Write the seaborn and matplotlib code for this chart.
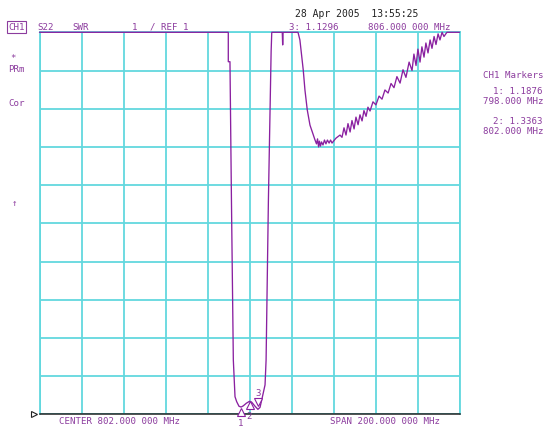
import matplotlib
matplotlib.use("Agg")
import matplotlib.pyplot as plt
from matplotlib.transforms import offset_copy
import seaborn as sns
import pandas as pd

# S22 SWR trace: frequency (MHz) and SWR
# values above 11 are pinned to the top of the screen like the instrument does
freq_mhz = [
    702.0, 791.9, 791.9, 792.7, 793.4, 794.3, 795.1, 795.9, 797.0, 798.0,
    799.0, 800.5, 802.0, 803.0, 804.5, 806.0, 807.0, 807.8, 809.4, 809.9,
    811.0, 812.3, 812.6, 817.6, 817.8, 818.0, 825.1,
    826.0, 827.6, 828.4, 829.5, 830.8, 832.1, 833.2,
    833.9, 834.4, 834.9, 835.3, 835.8, 836.3, 837.0, 837.7, 838.4, 839.1,
    839.9, 840.6, 841.3, 842.0, 843.2, 845.1,
    846.05, 847.0, 847.95, 848.9, 849.9, 850.8, 851.8, 852.7, 853.7, 854.6,
    855.6, 856.5, 857.5, 858.4, 859.4, 860.8, 862.2, 863.7, 865.1, 866.5,
    868.0, 869.4, 870.8, 872.2, 873.7, 875.1, 876.5, 878.0, 879.4, 880.3,
    881.3, 882.2, 883.2, 884.1, 885.1, 886.0, 887.0, 888.0, 888.9, 889.9,
    890.8, 891.8, 892.7, 893.7, 894.6, 896.0, 902.0,
]
swr = [
    11.0, 11.0, 10.23, 10.23, 6.61, 2.42, 1.46, 1.33, 1.21, 1.19,
    1.22, 1.29, 1.34, 1.32, 1.22, 1.13, 1.18, 1.37, 1.77, 2.42,
    6.60, 10.50, 11.0, 11.0, 10.67, 11.0, 11.0,
    10.80, 10.01, 9.49, 8.97, 8.57, 8.36, 8.18,
    8.08, 8.21, 8.00, 8.15, 8.02, 8.13, 8.05, 8.18, 8.08, 8.18,
    8.10, 8.18, 8.10, 8.15, 8.23, 8.31,
    8.25, 8.50, 8.31, 8.61, 8.39, 8.69, 8.47, 8.78, 8.58, 8.84,
    8.68, 8.95, 8.80, 9.04, 8.94, 9.18, 9.10, 9.33, 9.25, 9.49,
    9.41, 9.66, 9.55, 9.84, 9.67, 10.02, 9.82, 10.22, 10.00, 10.43,
    10.13, 10.56, 10.22, 10.62, 10.35, 10.72, 10.46, 10.80, 10.58, 10.89,
    10.68, 10.96, 10.80, 11.0, 10.89, 11.0, 11.0,
]

# markers
marker_freq = [798.0, 802.0, 806.0]
marker_swr = [1.1876, 1.3363, 1.1296]
marker_names = ["1", "2", "3"]

# screen settings
start_mhz, stop_mhz = 702.0, 902.0
ref_value, scale_per_div = 1, 1

PURPLE = "#8A20A0"
TXT = "#8C3C9E"
CYAN = "#62D8DE"
MONO = "DejaVu Sans Mono"

sns.set_style("white")
plt.rcParams["font.family"] = [MONO, "DejaVu Sans"]

W, H = 547, 428
fig = plt.figure(figsize=(W / 100, H / 100), dpi=100)
ax = fig.add_axes([39.5 / W, 1 - 414.3 / H, 420 / W, 382 / H])


def px(x, y):
    return x / W, 1 - y / H


df = pd.DataFrame({"freq": freq_mhz, "swr": swr})
sns.lineplot(data=df, x="freq", y="swr", sort=False, estimator=None,
             color=PURPLE, lw=0.95, ax=ax, clip_on=False, zorder=5)

ax.set_xlim(start_mhz, stop_mhz)
ax.set_ylim(ref_value, ref_value + 10 * scale_per_div)
ax.set_xticks(range(702, 903, 20))
ax.set_yticks(range(1, 12))
ax.grid(True, color=CYAN, lw=1.3)
ax.tick_params(length=0, labelbottom=False, labelleft=False)
ax.set_xlabel("")
ax.set_ylabel("")
for s in ["left", "right", "top"]:
    ax.spines[s].set_color(CYAN)
    ax.spines[s].set_linewidth(1.3)
ax.spines["bottom"].set_color("#222222")
ax.spines["bottom"].set_linewidth(1.1)

# reference position marker
ref_tr = offset_copy(ax.transData, fig=fig, x=-4, y=0, units="points")
ax.plot([start_mhz], [ref_value], marker=">", ms=5, mfc="white", mec="#222222",
        mew=0.8, transform=ref_tr, clip_on=False, zorder=6)

# marker triangles and numbers
tri_style = [("^", -3.2, -11.5), ("^", -2.4, -10.8), ("v", 5.0, 11.5)]
for f, v, name, (m, dy, ty) in zip(marker_freq, marker_swr, marker_names, tri_style):
    tr = offset_copy(ax.transData, fig=fig, x=0, y=dy, units="points")
    ax.plot([f], [v], marker=m, ms=6, mfc="white", mec=PURPLE, mew=0.8,
            transform=tr, clip_on=False, zorder=7)
    ax.annotate(name, (f, v), xytext=(0, ty), textcoords="offset points",
                ha="center", va="center", fontsize=6.6, color=TXT,
                annotation_clip=False)

fs = 6.6
fig.text(*px(8, 27), "CH1", fontsize=fs, color=TXT, va="center",
         bbox=dict(boxstyle="square,pad=0.12", fc="none", ec=TXT, lw=0.8))
fig.text(*px(37, 27), "S22", fontsize=fs, color=TXT, va="center")
fig.text(*px(72.5, 27), "SWR", fontsize=fs, color=TXT, va="center")
fig.text(*px(132, 27), "1", fontsize=fs, color=TXT, va="center")
fig.text(*px(150, 27), "/ REF 1", fontsize=fs, color=TXT, va="center")
fig.text(*px(289, 28), "3: 1.1296", fontsize=fs, color=TXT, va="center")
fig.text(*px(368, 28), "806.000 000 MHz", fontsize=fs, color=TXT, va="center")
fig.text(*px(295, 14), "28 Apr 2005  13:55:25", fontsize=7.0,
         color="#222222", va="center")

fig.text(*px(10, 59), "*", fontsize=fs, color=TXT, va="center")
fig.text(*px(8, 70), "PRm", fontsize=fs, color=TXT, va="center")
fig.text(*px(8, 104), "Cor", fontsize=fs, color=TXT, va="center")
fig.text(*px(12, 203), "\u2191", fontsize=fs, color=TXT, va="center")

fig.text(*px(483, 76), "CH1 Markers", fontsize=fs, color=TXT, va="center")
fig.text(*px(493, 91), "1: 1.1876", fontsize=fs, color=TXT, va="center")
fig.text(*px(483, 102), "798.000 MHz", fontsize=fs, color=TXT, va="center")
fig.text(*px(493, 121), "2: 1.3363", fontsize=fs, color=TXT, va="center")
fig.text(*px(483, 131), "802.000 MHz", fontsize=fs, color=TXT, va="center")

fig.text(*px(59, 422), "CENTER 802.000 000 MHz", fontsize=fs, color=TXT, va="center")
fig.text(*px(330, 422), "SPAN 200.000 000 MHz", fontsize=fs, color=TXT, va="center")

fig.savefig("out.png", dpi=100)
